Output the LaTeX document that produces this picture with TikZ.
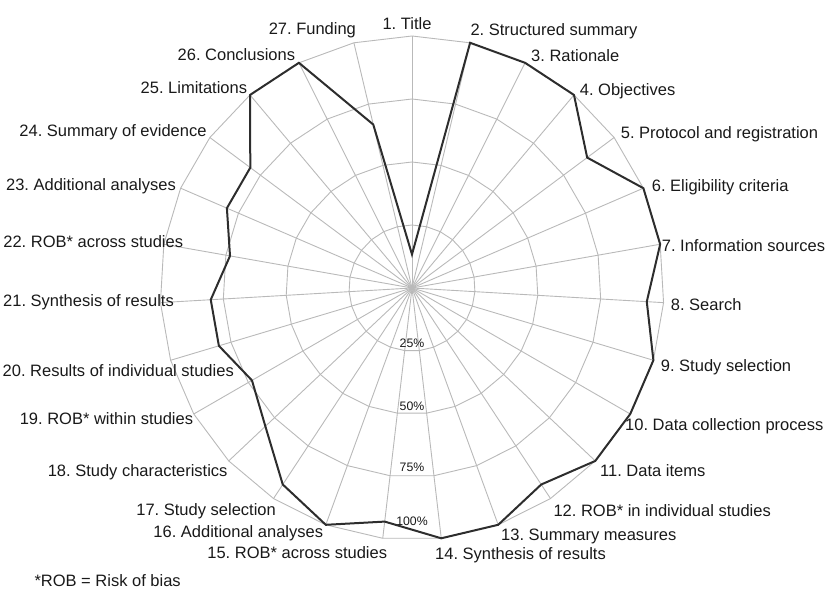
\documentclass[tikz,border=0pt]{standalone}
\usepackage{fontspec}
\setmainfont{Liberation Sans}
\frenchspacing
\definecolor{gridgray}{RGB}{185,185,185}
\definecolor{datagray}{RGB}{45,45,45}
\definecolor{txtcol}{RGB}{25,25,25}
\newcommand{\labfont}{\fontsize{16.5}{19}\selectfont}
\newcommand{\tickfont}{\fontsize{12.3}{14}\selectfont}
\begin{document}
\frenchspacing
\begin{tikzpicture}[x=1pt,y=-1pt,
  gridline/.style={draw=gridgray, line width=0.9pt},
  dataline/.style={draw=datagray, line width=2pt, line join=miter},
  lab/.style={font=\labfont, text=txtcol, inner sep=0pt},
  ticklab/.style={font=\tickfont, text=txtcol, inner sep=0pt, anchor=base}]
\useasboundingbox (0,0) rectangle (825,599);
\def\cx{412}\def\cy{288}\def\R{252}
\coordinate (ctr) at (\cx,\cy);
% grid coordinates
\foreach \k in {1,...,27}{
  \pgfmathsetmacro\ang{90-(\k-1)*360/27}
  \foreach \lev/\nm in {0.25/a,0.5/b,0.75/c,1/d}{
    \coordinate (r\nm\k) at ({\cx+\lev*\R*cos(\ang)},{\cy-\lev*\R*sin(\ang)});
  }
}
% radial axes
\foreach \k in {1,...,27}{ \draw[gridline] (ctr) -- (rd\k); }
% rings
\foreach \nm in {a,b,c,d}{
  \draw[gridline] (r\nm1) \foreach \k in {2,...,27}{ -- (r\nm\k) } -- cycle;
}
% tick labels
\node[ticklab] (t25) at (412,347.7) {25\%};
\node[ticklab] (t50) at (412,410.1) {50\%};
\node[ticklab] (t75) at (412,471.1) {75\%};
\node[ticklab] (t100) at (412,525.1) {100\%};
% data (out of 15)
\foreach \v [count=\k] in {2,15,15,15,13,15,15,14,15,15,15,14,15,15,14,15,14,12,11,12,12,11,12,12,15,15,10}{
  \pgfmathsetmacro\ang{90-(\k-1)*360/27}
  \coordinate (v\k) at ({\cx+\v/15*\R*cos(\ang)},{\cy-\v/15*\R*sin(\ang)});
}
\draw[dataline] (v1) \foreach \k in {2,...,27}{ -- (v\k) } -- cycle;
% axis labels
\node[lab, anchor=base] (l1) at (407,30) {1. Title};
\node[lab, anchor=base west] (l2) at (470.3,36) {2. Structured summary};
\node[lab, anchor=base west] (l3) at (531,62) {3. Rationale};
\node[lab, anchor=base west] (l4) at (579.7,96) {4. Objectives};
\node[lab, anchor=base west] (l5) at (620.7,139) {5. Protocol and registration};
\node[lab, anchor=base west] (l6) at (651.7,191) {6. Eligibility criteria};
\node[lab, anchor=base west] (l7) at (661.7,251.7) {7. Information sources};
\node[lab, anchor=base west] (l8) at (670.7,310) {8. Search};
\node[lab, anchor=base west] (l9) at (660.7,371) {9. Study selection};
\node[lab, anchor=base west] (l10) at (625,430) {10. Data collection process};
\node[lab, anchor=base west] (l11) at (600,476.7) {11. Data items};
\node[lab, anchor=base west] (l12) at (553.3,516.7) {12. ROB* in individual studies};
\node[lab, anchor=base west] (l13) at (501,540) {13. Summary measures};
\node[lab, anchor=base west] (l14) at (435,559.3) {14. Synthesis of results};
\node[lab, anchor=base east] (l15) at (387.3,558.7) {15. ROB* across studies};
\node[lab, anchor=base east] (l16) at (323.3,537.7) {16. Additional analyses};
\node[lab, anchor=base east] (l17) at (276,515.3) {17. Study selection};
\node[lab, anchor=base east] (l18) at (227.7,476) {18. Study characteristics};
\node[lab, anchor=base east] (l19) at (193.3,424.3) {19. ROB* within studies};
\node[lab, anchor=base east] (l20) at (234,376) {20. Results of individual studies};
\node[lab, anchor=base east] (l21) at (174,306.7) {21. Synthesis of results};
\node[lab, anchor=base east] (l22) at (183.3,247.7) {22. ROB* across studies};
\node[lab, anchor=base east] (l23) at (176,190.3) {23. Additional analyses};
\node[lab, anchor=base east] (l24) at (206.7,137) {24. Summary of evidence};
\node[lab, anchor=base east] (l25) at (247.3,93.3) {25. Limitations};
\node[lab, anchor=base east] (l26) at (295.3,60.3) {26. Conclusions};
\node[lab, anchor=base east] (l27) at (356.1,35) {27. Funding};
\node[lab, anchor=base west] (foot) at (34.3,586) {*ROB = Risk of bias};
\end{tikzpicture}
\end{document}
